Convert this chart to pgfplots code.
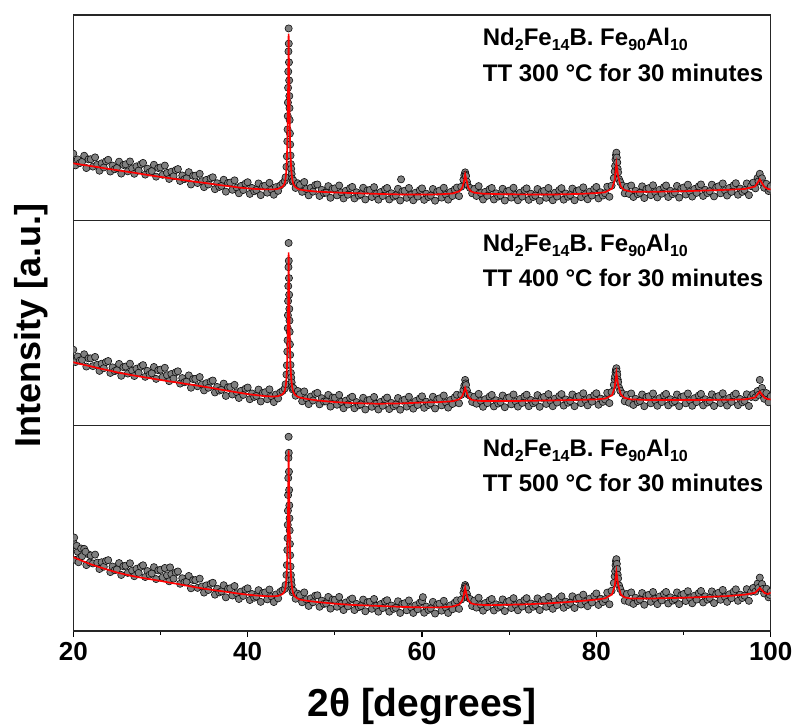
\documentclass[border=0pt]{standalone}
\usepackage{fontspec}
\setmainfont{Liberation Sans}
\usepackage{pgfplots}
\pgfplotsset{compat=1.18}
\newcommand\sub[1]{\raisebox{-5bp}{\fontsize{16bp}{16bp}\selectfont #1}}
\newcommand\annfont{\fontsize{24bp}{24bp}\selectfont\bfseries}
\pgfplotsset{
  panel/.style={
    scale only axis, width=697.4bp, height=205.3bp,
    xmin=20, xmax=100, ymin=0, ymax=100,
    ytick=\empty, clip marker paths=true,
    axis line style={line width=1.2bp, black!85},
  },
  datapts/.style={only marks, mark=*, mark size=3.6bp,
    mark options={fill=black!50, draw=black!95, line width=0.6bp}},
  fitline/.style={red, line width=1.7bp, no marks},
}
\begin{document}
\begin{tikzpicture}
%================ BOTTOM PANEL (500 C) =================
\begin{axis}[panel, at={(0,0)}, anchor=south west,
  xtick={20,40,60,80,100}, minor xtick={30,50,70,90},
  tick align=outside, xtick pos=bottom,
  major tick length=6bp, minor tick length=3.5bp,
  every tick/.style={black, line width=1.2bp},
  /pgf/number format/assume math mode=true,
  xticklabel style={font=\fontsize{26bp}{26bp}\selectfont\bfseries, inner sep=0pt, anchor=north, yshift=-5bp},
  xlabel={2θ [degrees]},
  xlabel style={font=\fontsize{39bp}{39bp}\selectfont\bfseries, at={(axis description cs:0.5,0)}, anchor=north, inner sep=0pt, yshift=-57bp},
]
\addplot[datapts] coordinates {
(20,43.5)(20.25,34.6)(20.5,38.6)(20.75,35.7)(20.1,45.5)(20.4,41.5)(20.6,33.5)(20.9,40.2)
(21,36.4)(21.25,40.0)(21.5,32.1)(21.75,37.3)(21.4,38.6)(21.9,33.4)
(22,36.8)(22.25,32.9)(22.5,37.2)(22.75,33.3)
(23,30.2)(23.25,33.5)(23.5,31.3)(23.75,34.1)
(24,34.5)(24.25,28.7)(24.5,31.4)(24.75,29.6)
(25,30.0)(25.25,33.1)(25.5,27.3)(25.75,31.5)
(26,31.8)(26.25,28.3)(26.5,33.0)(26.75,29.4)
(27,26.7)(27.25,30.3)(27.5,28.3)(27.75,31.3)
(28,32.0)(28.25,26.3)(28.5,29.2)(28.75,27.4)
(29,28.0)(29.25,31.1)(29.5,25.3)(29.75,29.5)
(30,29.8)(30.25,26.2)(30.5,30.7)(30.75,27.1)
(31,24.2)(31.25,27.7)(31.5,25.5)(31.75,28.5)(31.1,31.0)
(32,29.0)(32.25,23.0)(32.5,25.7)(32.75,23.7)
(33,24.0)(33.25,26.8)(33.5,20.8)(33.75,24.8)
(34,24.8)(34.25,21.0)(34.5,25.5)(34.75,21.7)
(35,18.7)(35.25,22.2)(35.5,20.0)(35.75,23.0)
(36,23.5)(36.25,17.7)(36.5,20.6)(36.75,18.8)
(37,19.3)(37.25,22.3)(37.5,16.4)(37.75,20.6)
(38,20.8)(38.25,17.3)(38.5,21.9)(38.75,18.4)
(39,15.6)(39.25,19.2)(39.5,17.1)(39.75,20.2)
(40,20.8)(40.25,15.1)(40.5,18.0)(40.75,16.2)
(41,16.8)(41.25,19.9)(41.5,14.2)(41.75,18.5)
(42,18.8)(42.25,15.4)(42.5,20.2)(42.75,16.8)
(43,14.1)(43.25,17.8)(43.5,15.9)(43.75,19.1)
(44,19.8)(44.25,20.5)(44.35,22.4)(44.45,27.3)(44.5,32.1)(44.55,39.4)(44.58,45.2)(44.6,51.7)(44.62,58.6)(44.64,66.2)(44.66,74.5)(44.68,84.3)(44.7,94.6)(44.72,86.8)(44.74,77.6)(44.76,68.7)(44.78,61.2)(44.8,54.9)(44.82,49.0)(44.85,42.4)(44.88,36.9)(44.92,31.4)(44.96,27.3)(45,24.8)(45.05,22.4)(45.1,20.3)(45.15,18.8)
(45.25,19.6)(45.5,15.7)(45.75,18.2)
(46,17.4)(46.25,14.0)(46.5,18.8)(46.75,15.4)
(47,12.2)(47.25,15.9)(47.5,14.0)(47.75,17.2)
(48,17.4)(48.25,11.8)(48.5,14.8)(48.75,13.2)
(49,13.4)(49.25,16.6)(49.5,10.9)(49.75,15.3)
(50,15.2)(50.25,11.8)(50.5,16.6)(50.75,13.2)
(51,10.2)(51.25,13.9)(51.5,12.0)(51.75,15.2)
(52,15.8)(52.25,10.2)(52.5,13.2)(52.75,11.6)
(53,12.1)(53.25,15.3)(53.5,9.6)(53.75,14.0)
(54,14.2)(54.25,10.8)(54.5,15.6)(54.75,12.2)
(55,9.4)(55.25,13.1)(55.5,11.2)(55.75,14.4)
(56,15.0)(56.25,9.4)(56.5,12.4)(56.75,10.8)
(57,11.3)(57.25,14.5)(57.5,8.8)(57.75,13.2)
(58,13.5)(58.25,10.1)(58.5,14.9)(58.75,11.5)
(59,8.8)(59.25,12.5)(59.5,10.6)(59.75,13.8)
(60,14.5)(60.25,8.9)(60.5,11.9)(60.75,10.3)(60.1,16.5)
(61,11.0)(61.25,14.2)(61.5,8.5)(61.75,12.9)
(62,13.3)(62.25,9.9)(62.5,14.7)(62.75,11.3)
(63,8.8)(63.25,12.5)(63.5,10.6)(63.75,13.8)
(64,14.9)(64.25,10.8)(64.5,15.3)(64.75,18.6)(64.85,20.7)(64.95,22.4)(65,21.6)(65.05,20.9)(65.15,18.1)
(65.25,16.2)(65.5,15.6)(65.75,12.2)
(66,14.8)(66.25,11.4)(66.5,16.2)(66.75,12.8)
(67,9.9)(67.25,13.6)(67.5,11.7)(67.75,14.9)
(68,15.6)(68.25,10.0)(68.5,13.0)(68.75,11.4)
(69,12.2)(69.25,15.4)(69.5,9.7)(69.75,14.1)
(70,14.6)(70.25,11.2)(70.5,16.0)(70.75,12.6)
(71,10.1)(71.25,13.8)(71.5,11.9)(71.75,15.1)
(72,16.0)(72.25,10.4)(72.5,13.4)(72.75,11.8)
(73,12.7)(73.25,15.9)(73.5,10.2)(73.75,14.6)
(74,15.2)(74.25,11.8)(74.5,16.6)(74.75,13.2)
(75,10.8)(75.25,14.5)(75.5,12.6)(75.75,15.8)
(76,16.9)(76.25,11.3)(76.5,14.3)(76.75,12.7)
(77,13.7)(77.25,16.9)(77.5,11.2)(77.75,15.6)
(78,16.3)(78.25,12.9)(78.5,17.7)(78.75,14.3)
(79,12.1)(79.25,15.8)(79.5,13.9)(79.75,17.1)
(80,18.3)(80.25,12.7)(80.5,15.7)(80.75,14.1)
(81,15.5)(81.25,18.7)(81.5,13.0)(81.75,19.6)
(82,23.4)(82.1,26.6)(82.15,29.1)(82.2,32.0)(82.25,34.0)(82.3,35.0)(82.35,32.7)(82.4,30.2)(82.45,27.4)(82.5,25.6)(82.6,22.2)(82.75,20.4)(83,18.6)
(83.25,14.8)(83.5,18.0)(83.75,14.2)
(84,18.8)(84.25,13.2)(84.5,16.2)(84.75,14.6)
(85,15.3)(85.25,18.5)(85.5,12.8)(85.75,17.2)
(86,17.6)(86.25,14.2)(86.5,19.0)(86.75,15.6)
(87,13.1)(87.25,16.8)(87.5,14.9)(87.75,18.1)
(88,19.0)(88.25,13.4)(88.5,16.4)(88.75,14.8)
(89,15.6)(89.25,18.8)(89.5,13.1)(89.75,17.5)
(90,18.0)(90.25,14.6)(90.5,19.4)(90.75,16.0)
(91,13.5)(91.25,17.2)(91.5,15.3)(91.75,18.5)
(92,19.5)(92.25,13.9)(92.5,16.9)(92.75,15.3)
(93,16.1)(93.25,19.3)(93.5,13.6)(93.75,18.0)
(94,18.6)(94.25,15.2)(94.5,20.0)(94.75,16.6)
(95,14.2)(95.25,17.9)(95.5,16.0)(95.75,19.2)
(96,20.3)(96.25,14.7)(96.5,17.7)(96.75,16.1)
(97,17.2)(97.25,20.4)(97.5,14.7)(97.75,19.1)
(98,21.0)(98.25,19.2)(98.5,23.1)(98.6,21.0)(98.75,26.0)
(99,22.9)(99.1,20.5)(99.25,18.3)(99.5,20.6)(99.75,16.4)(99.9,17.6)
(100,19.1)
};
\addplot[fitline] coordinates {
(20,36.0)(21,34.2)(22,32.5)(23,31.1)(24,29.8)(25,28.5)(26,27.5)(27,26.6)(28,25.8)(29,25.1)
(30,24.4)(31,23.6)(32,22.9)(33,22.1)(34,21.3)(35,20.6)(36,20.0)(37,19.4)(38,18.8)(39,18.2)
(40,17.7)(41,17.3)(42,17.0)(43,16.9)(43.5,17.1)(44.0,18.0)(44.2,19.1)(44.3,20.3)(44.4,23.1)
(44.45,25.8)(44.5,29.9)(44.55,36.6)(44.6,47.6)(44.65,63.5)(44.7,88.0)(44.75,67.6)(44.8,52.5)
(44.85,40.7)(44.9,32.5)(45.0,24.8)(45.1,20.9)(45.2,18.6)(45.4,16.9)(45.7,15.9)(46,15.3)
(47,14.6)(48,14.1)(50,13.3)(52,12.7)(55,12.2)(58,11.7)(60,11.5)(62,11.5)(63.5,11.9)
(64.3,13.0)(64.6,14.8)(64.8,17.5)(64.95,21.0)(65.1,18.0)(65.3,15.1)(65.6,13.6)(66,13.0)
(67,12.7)(68,12.6)(70,12.8)(72,13.0)(75,13.6)(78,14.5)(80,15.3)(81,15.9)(81.8,17.8)
(82.1,21.8)(82.3,28.8)(82.5,22.4)(82.8,17.8)(83.2,16.4)(84,15.8)(86,15.8)(90,16.2)
(92,16.5)(95,17.0)(97,17.7)(98.2,18.6)(98.6,20.3)(98.75,21.0)(98.95,20.0)(99.3,18.5)
(99.7,18.0)(100,18.7)
};
\node[anchor=base west, inner sep=0pt, font=\annfont] at (axis description cs:0.587,0.85) {Nd\sub{2}Fe\sub{14}B. Fe\sub{90}Al\sub{10}};
\node[anchor=base west, inner sep=0pt, font=\annfont] at (axis description cs:0.587,0.678) {TT 500 °C for 30 minutes};
\end{axis}
%================ MIDDLE PANEL (400 C) =================
\begin{axis}[panel, at={(0,205.3bp)}, anchor=south west, xtick=\empty,
  ylabel={Intensity [a.u.]},
  ylabel style={font=\fontsize{36bp}{36bp}\selectfont\bfseries, at={(axis description cs:-0.036,0.49)}, anchor=south, inner sep=0pt},
]
\addplot[datapts] coordinates {
(20,37.0)(20.25,31.0)(20.5,33.7)(20.75,31.7)
(21,32.0)(21.25,34.8)(21.5,28.8)(21.75,32.8)
(22,32.8)(22.25,29.0)(22.5,33.5)(22.75,29.7)
(23,26.7)(23.25,30.2)(23.5,28.0)(23.75,31.0)
(24,31.5)(24.25,25.7)(24.5,28.4)(24.75,26.6)
(25,27.0)(25.25,30.1)(25.5,24.3)(25.75,28.5)
(26,28.8)(26.25,25.4)(26.5,30.2)(26.75,26.8)
(27,24.2)(27.25,27.8)(27.5,25.8)(27.75,28.8)
(28,29.5)(28.25,23.8)(28.5,26.7)(28.75,24.9)
(29,25.5)(29.25,28.6)(29.5,22.8)(29.75,27.0)
(30,27.3)(30.25,23.7)(30.5,28.2)(30.75,24.6)
(31,21.7)(31.25,25.2)(31.5,23.0)(31.75,26.0)
(32,26.5)(32.25,20.5)(32.5,23.2)(32.75,21.2)
(33,21.5)(33.25,24.5)(33.5,18.5)(33.75,22.7)
(34,22.8)(34.25,19.2)(34.5,23.7)(34.75,20.1)
(35,17.2)(35.25,20.7)(35.5,18.5)(35.75,21.5)
(36,22.0)(36.25,16.2)(36.5,18.9)(36.75,17.1)
(37,17.5)(37.25,20.5)(37.5,14.5)(37.75,18.7)
(38,18.8)(38.25,15.2)(38.5,19.9)(38.75,16.3)
(39,13.5)(39.25,17.0)(39.5,15.0)(39.75,18.0)
(40,18.6)(40.25,12.9)(40.5,15.7)(40.75,14.0)
(41,14.5)(41.25,17.6)(41.5,11.8)(41.75,16.0)
(42,16.3)(42.25,12.9)(42.5,17.7)(42.75,14.3)
(43,11.5)(43.25,15.2)(43.5,13.3)(43.75,16.2)
(44,16.9)(44.25,18.1)(44.35,20.2)(44.45,24.9)(44.5,29.4)(44.55,36.1)(44.58,41.6)(44.6,47.5)(44.62,53.8)(44.64,60.7)(44.66,68.0)(44.68,77.2)(44.7,89.0)(44.72,80.3)(44.74,71.9)(44.76,63.8)(44.78,56.9)(44.8,51.2)(44.82,45.7)(44.85,39.6)(44.88,34.5)(44.92,29.6)(44.96,25.7)(45,23.4)(45.05,21.1)(45.1,19.0)(45.15,17.7)
(45.25,18.3)(45.5,14.6)(45.75,16.9)
(46,15.3)(46.25,11.9)(46.5,16.7)(46.75,13.3)
(47,10.5)(47.25,14.2)(47.5,12.3)(47.75,15.5)
(48,16.0)(48.25,10.4)(48.5,13.4)(48.75,11.8)
(49,11.8)(49.25,15.0)(49.5,9.3)(49.75,13.7)
(50,13.6)(50.25,10.2)(50.5,15.0)(50.75,11.6)
(51,8.5)(51.25,12.2)(51.5,10.3)(51.75,13.5)
(52,14.1)(52.25,8.5)(52.5,11.5)(52.75,9.9)
(53,10.4)(53.25,13.6)(53.5,7.9)(53.75,12.3)
(54,12.6)(54.25,9.2)(54.5,14.0)(54.75,10.6)
(55,7.9)(55.25,11.6)(55.5,9.7)(55.75,12.9)
(56,13.7)(56.25,8.1)(56.5,11.1)(56.75,9.5)
(57,10.3)(57.25,13.5)(57.5,7.8)(57.75,12.2)
(58,12.7)(58.25,9.3)(58.5,14.1)(58.75,10.7)
(59,8.3)(59.25,12.0)(59.5,10.1)(59.75,13.3)
(60,14.3)(60.25,8.7)(60.5,11.7)(60.75,10.1)
(61,10.9)(61.25,14.1)(61.5,8.4)(61.75,12.8)
(62,13.3)(62.25,9.9)(62.5,14.7)(62.75,11.3)
(63,8.8)(63.25,12.5)(63.5,10.6)(63.75,13.8)
(64,15.1)(64.25,10.9)(64.5,15.0)(64.75,17.4)(64.85,19.5)(64.95,22.3)(65,20.6)(65.05,19.8)(65.15,17.2)
(65.25,15.3)(65.5,14.6)(65.75,11.6)
(66,14.1)(66.25,10.7)(66.5,15.5)(66.75,12.1)
(67,9.2)(67.25,12.9)(67.5,11.0)(67.75,14.2)
(68,15.0)(68.25,9.4)(68.5,12.4)(68.75,10.8)
(69,11.5)(69.25,14.7)(69.5,9.0)(69.75,13.4)
(70,13.8)(70.25,10.4)(70.5,15.2)(70.75,11.8)
(71,9.3)(71.25,13.0)(71.5,11.1)(71.75,14.3)
(72,15.1)(72.25,9.5)(72.5,12.5)(72.75,10.9)
(73,11.7)(73.25,14.9)(73.5,9.2)(73.75,13.6)
(74,14.0)(74.25,10.6)(74.5,15.4)(74.75,12.0)
(75,9.5)(75.25,13.2)(75.5,11.3)(75.75,14.5)
(76,15.4)(76.25,9.8)(76.5,12.8)(76.75,11.2)
(77,12.0)(77.25,15.2)(77.5,9.5)(77.75,13.9)
(78,14.4)(78.25,11.0)(78.5,15.8)(78.75,12.4)
(79,9.9)(79.25,13.6)(79.5,11.7)(79.75,14.9)
(80,15.8)(80.25,10.2)(80.5,13.2)(80.75,11.6)
(81,12.8)(81.25,16.0)(81.5,11.0)(81.75,16.4)
(82,19.9)(82.1,22.6)(82.15,24.1)(82.2,26.0)(82.25,27.2)(82.3,28.0)(82.35,26.4)(82.4,24.8)(82.45,22.5)(82.5,21.2)(82.6,18.6)(82.75,17.0)(83,15.6)
(83.25,11.9)(83.5,14.9)(83.75,11.2)
(84,15.7)(84.25,10.1)(84.5,13.1)(84.75,11.5)
(85,12.0)(85.25,15.2)(85.5,9.5)(85.75,13.9)
(86,14.3)(86.25,10.9)(86.5,15.7)(86.75,12.3)
(87,9.7)(87.25,13.4)(87.5,11.5)(87.75,14.7)
(88,15.5)(88.25,9.9)(88.5,12.9)(88.75,11.3)
(89,12.0)(89.25,15.2)(89.5,9.5)(89.75,13.9)
(90,14.3)(90.25,10.9)(90.5,15.7)(90.75,12.3)
(91,9.7)(91.25,13.4)(91.5,11.5)(91.75,14.7)
(92,15.5)(92.25,9.9)(92.5,12.9)(92.75,11.3)
(93,12.1)(93.25,15.3)(93.5,9.6)(93.75,14.0)
(94,14.4)(94.25,11.0)(94.5,15.8)(94.75,12.4)
(95,9.8)(95.25,13.5)(95.5,11.6)(95.75,14.8)
(96,15.6)(96.25,10.0)(96.5,13.0)(96.75,11.4)
(97,12.1)(97.25,15.3)(97.5,9.6)(97.75,14.0)
(98,15.4)(98.25,13.8)(98.5,16.9)(98.6,15.0)(98.75,22.3)
(99,18.4)(99.1,16.0)(99.25,13.1)(99.5,15.9)(99.75,11.4)
(100,14.3)
};
\addplot[fitline] coordinates {
(20,30.9)(21,29.9)(22,28.9)(23,27.9)(24,27.0)(25,26.0)(26,25.2)(27,24.4)(28,23.7)(29,23.0)
(30,22.3)(31,21.6)(32,21.0)(33,20.3)(34,19.7)(35,19.0)(36,18.3)(37,17.5)(38,16.8)(39,16.1)
(40,15.4)(41,14.9)(42,14.4)(43,14.2)(43.5,14.4)(44.0,15.3)(44.2,16.4)(44.3,17.6)(44.4,20.4)
(44.45,23.1)(44.5,27.2)(44.55,33.8)(44.6,44.8)(44.65,60.6)(44.7,84.4)(44.75,64.4)(44.8,49.6)
(44.85,38.1)(44.9,30.2)(45.0,22.7)(45.1,19.0)(45.2,16.9)(45.4,15.2)(45.7,14.2)(46,13.7)
(47,12.9)(48,12.3)(50,11.5)(52,11.0)(55,10.7)(58,10.9)(60,11.3)(62,11.5)(63.5,11.9)
(64.3,12.9)(64.6,14.3)(64.8,16.3)(64.95,18.5)(65.1,16.6)(65.3,14.0)(65.6,12.8)(66,12.3)
(67,12.0)(70,12.0)(75,12.3)(78,12.6)(80,12.8)(81,13.2)(81.8,14.8)(82.1,18.6)(82.3,25.5)
(82.5,19.8)(82.8,15.3)(83.2,13.6)(84,12.8)(86,12.5)(90,12.5)(95,12.6)(97,12.8)(98.2,13.7)
(98.6,15.8)(98.75,16.6)(98.95,15.4)(99.3,13.6)(99.7,12.9)(100,12.8)
};
\node[anchor=base west, inner sep=0pt, font=\annfont] at (axis description cs:0.587,0.85) {Nd\sub{2}Fe\sub{14}B. Fe\sub{90}Al\sub{10}};
\node[anchor=base west, inner sep=0pt, font=\annfont] at (axis description cs:0.587,0.678) {TT 400 °C for 30 minutes};
\end{axis}
%================ TOP PANEL (300 C) =================
\begin{axis}[panel, at={(0,410.6bp)}, anchor=south west, xtick=\empty]
\addplot[datapts] coordinates {
(20,32.5)(20.25,26.8)(20.5,29.7)(20.75,27.9)
(21,28.5)(21.25,31.5)(21.5,25.5)(21.75,29.7)
(22,29.8)(22.25,26.2)(22.5,30.7)(22.75,27.1)
(23,24.2)(23.25,27.8)(23.5,25.8)(23.75,28.8)
(24,29.5)(24.25,23.8)(24.5,26.7)(24.75,24.9)
(25,25.5)(25.25,28.6)(25.5,22.8)(25.75,27.0)
(26,27.3)(26.25,23.9)(26.5,28.7)(26.75,25.3)
(27,22.7)(27.25,26.3)(27.5,24.3)(27.75,27.3)
(28,28.0)(28.25,22.3)(28.5,25.2)(28.75,23.4)
(29,24.0)(29.25,27.1)(29.5,21.3)(29.75,25.5)
(30,25.8)(30.25,22.2)(30.5,26.7)(30.75,23.1)
(31,20.2)(31.25,23.7)(31.5,21.5)(31.75,24.5)
(32,25.0)(32.25,19.2)(32.5,21.9)(32.75,20.1)
(33,20.5)(33.25,23.5)(33.5,17.5)(33.75,21.7)
(34,21.8)(34.25,18.2)(34.5,22.7)(34.75,19.1)
(35,16.2)(35.25,19.7)(35.5,17.5)(35.75,20.5)
(36,21.0)(36.25,15.2)(36.5,18.1)(36.75,16.3)
(37,16.8)(37.25,19.8)(37.5,14.0)(37.75,18.2)
(38,18.4)(38.25,14.9)(38.5,19.5)(38.75,16.0)
(39,13.2)(39.25,16.8)(39.5,14.8)(39.75,17.9)
(40,18.6)(40.25,12.9)(40.5,15.8)(40.75,14.2)
(41,14.8)(41.25,18.0)(41.5,12.3)(41.75,16.6)
(42,16.9)(42.25,13.5)(42.5,18.3)(42.75,15.0)
(43,12.5)(43.25,16.2)(43.5,14.4)(43.75,17.0)
(44,18.0)(44.25,19.2)(44.35,21.0)(44.45,26.1)(44.5,31.2)(44.55,38.5)(44.58,44.3)(44.6,50.8)(44.62,57.4)(44.64,64.6)(44.66,72.5)(44.68,82.3)(44.7,93.5)(44.72,86.1)(44.74,77.0)(44.76,68.2)(44.78,60.6)(44.8,54.7)(44.82,48.9)(44.85,42.3)(44.88,37.0)(44.92,31.6)(44.96,27.4)(45,25.1)(45.05,22.6)(45.1,20.4)(45.15,18.9)
(45.25,19.4)(45.5,15.8)(45.75,18.1)
(46,17.3)(46.25,13.9)(46.5,18.7)(46.75,15.3)
(47,12.2)(47.25,15.9)(47.5,14.0)(47.75,17.2)
(48,17.5)(48.25,11.9)(48.5,14.9)(48.75,13.3)
(49,13.5)(49.25,16.7)(49.5,11.0)(49.75,15.4)
(50,15.6)(50.25,12.2)(50.5,17.0)(50.75,13.6)
(51,10.7)(51.25,14.4)(51.5,12.5)(51.75,15.7)
(52,16.3)(52.25,10.7)(52.5,13.7)(52.75,12.1)
(53,12.7)(53.25,15.9)(53.5,10.2)(53.75,14.6)
(54,14.8)(54.25,11.4)(54.5,16.2)(54.75,12.8)
(55,10.1)(55.25,13.8)(55.5,11.9)(55.75,15.1)
(56,15.8)(56.25,10.2)(56.5,13.2)(56.75,11.6)
(57,12.2)(57.25,15.4)(57.5,9.7)(57.75,14.1)(57.6,20.0)
(58,14.4)(58.25,11.0)(58.5,15.8)(58.75,12.4)
(59,9.8)(59.25,13.5)(59.5,11.6)(59.75,14.8)
(60,15.6)(60.25,10.0)(60.5,13.0)(60.75,11.4)
(61,12.1)(61.25,15.3)(61.5,9.6)(61.75,14.0)
(62,14.5)(62.25,11.1)(62.5,15.9)(62.75,12.5)
(63,10.1)(63.25,13.8)(63.5,11.9)(63.75,15.1)
(64,16.0)(64.25,11.8)(64.5,16.4)(64.75,19.8)(64.85,22.0)(64.95,23.4)(65,22.3)(65.05,21.6)(65.15,18.9)
(65.25,17.1)(65.5,15.8)(65.75,13.2)
(66,15.3)(66.25,11.9)(66.5,16.7)(66.75,13.3)
(67,10.2)(67.25,13.9)(67.5,12.0)(67.75,15.2)
(68,15.8)(68.25,10.2)(68.5,13.2)(68.75,11.6)
(69,12.2)(69.25,15.4)(69.5,9.7)(69.75,14.1)
(70,14.5)(70.25,11.1)(70.5,15.9)(70.75,12.5)
(71,9.8)(71.25,13.5)(71.5,11.6)(71.75,14.8)
(72,15.6)(72.25,10.0)(72.5,13.0)(72.75,11.4)
(73,12.1)(73.25,15.3)(73.5,9.6)(73.75,14.0)
(74,14.4)(74.25,11.0)(74.5,15.8)(74.75,12.4)
(75,9.8)(75.25,13.5)(75.5,11.6)(75.75,14.8)
(76,15.7)(76.25,10.1)(76.5,13.1)(76.75,11.5)
(77,12.3)(77.25,15.5)(77.5,9.8)(77.75,14.2)
(78,14.7)(78.25,11.3)(78.5,16.1)(78.75,12.7)
(79,10.3)(79.25,14.0)(79.5,12.1)(79.75,15.3)
(80,16.3)(80.25,10.7)(80.5,13.7)(80.75,12.1)
(81,13.2)(81.25,16.4)(81.5,11.5)(81.75,16.9)
(82,20.6)(82.1,23.8)(82.15,26.5)(82.2,29.7)(82.25,31.8)(82.3,33.0)(82.35,30.6)(82.4,28.2)(82.45,25.1)(82.5,23.4)(82.6,20.1)(82.75,18.6)(83,16.9)
(83.25,13.2)(83.5,16.3)(83.75,12.9)
(84,17.0)(84.25,11.4)(84.5,14.4)(84.75,12.8)
(85,13.4)(85.25,16.6)(85.5,10.9)(85.75,15.3)
(86,15.7)(86.25,12.3)(86.5,17.1)(86.75,13.7)
(87,11.2)(87.25,14.9)(87.5,13.0)(87.75,16.2)
(88,17.0)(88.25,11.4)(88.5,14.4)(88.75,12.8)
(89,13.6)(89.25,16.8)(89.5,11.1)(89.75,15.5)
(90,16.0)(90.25,12.6)(90.5,17.4)(90.75,14.0)
(91,11.6)(91.25,15.3)(91.5,13.4)(91.75,16.6)
(92,17.5)(92.25,11.9)(92.5,14.9)(92.75,13.3)
(93,14.2)(93.25,17.4)(93.5,11.7)(93.75,16.1)
(94,16.6)(94.25,13.2)(94.5,18.0)(94.75,14.6)
(95,12.1)(95.25,15.8)(95.5,13.9)(95.75,17.1)
(96,18.1)(96.25,12.5)(96.5,15.5)(96.75,13.9)
(97,14.8)(97.25,18.0)(97.5,12.3)(97.75,16.7)
(98,18.4)(98.25,15.6)(98.5,20.7)(98.6,19.0)(98.75,22.7)
(99,20.5)(99.1,18.0)(99.25,15.9)(99.5,17.8)(99.75,14.3)(99.9,15.4)
(100,16.6)
};
\addplot[fitline] coordinates {
(20,27.8)(21,27.1)(22,26.5)(23,25.8)(24,25.1)(25,24.5)(26,23.8)(27,23.2)(28,22.5)(29,21.8)
(30,21.2)(31,20.6)(32,20.0)(33,19.4)(34,18.8)(35,18.3)(36,17.7)(37,17.1)(38,16.6)(39,16.0)
(40,15.6)(41,15.3)(42,15.1)(43,15.1)(43.5,15.4)(44.0,16.4)(44.2,17.6)(44.3,19.0)(44.4,22.2)
(44.45,25.3)(44.5,30.0)(44.55,37.5)(44.6,50.0)(44.65,68.0)(44.7,91.0)(44.75,72.0)(44.8,55.2)
(44.85,42.0)(44.9,33.0)(45.0,24.7)(45.1,20.6)(45.2,18.3)(45.4,16.5)(45.7,15.5)(46,15.0)
(47,14.4)(48,14.0)(50,13.6)(52,13.3)(55,12.9)(58,12.6)(60,12.6)(62,12.7)(63.5,13.1)
(64.3,14.2)(64.6,15.8)(64.8,18.5)(64.95,22.4)(65.1,19.6)(65.3,16.0)(65.6,14.2)(66,13.5)
(67,13.0)(70,12.7)(75,12.6)(78,12.9)(80,13.3)(81,13.7)(81.8,15.5)(82.1,19.5)(82.3,27.6)
(82.5,21.5)(82.8,16.5)(83.2,14.8)(84,14.0)(86,13.9)(90,14.2)(95,14.9)(97,15.3)(98.2,16.5)
(98.6,19.0)(98.75,20.0)(98.95,18.5)(99.3,16.2)(99.7,15.3)(100,15.1)
};
\node[anchor=base west, inner sep=0pt, font=\annfont] at (axis description cs:0.587,0.85) {Nd\sub{2}Fe\sub{14}B. Fe\sub{90}Al\sub{10}};
\node[anchor=base west, inner sep=0pt, font=\annfont] at (axis description cs:0.587,0.678) {TT 300 °C for 30 minutes};
\end{axis}
\pgfresetboundingbox
\path[use as bounding box] (-73.3bp,-96bp) rectangle (721.7bp,631bp);
\end{tikzpicture}
\end{document}
